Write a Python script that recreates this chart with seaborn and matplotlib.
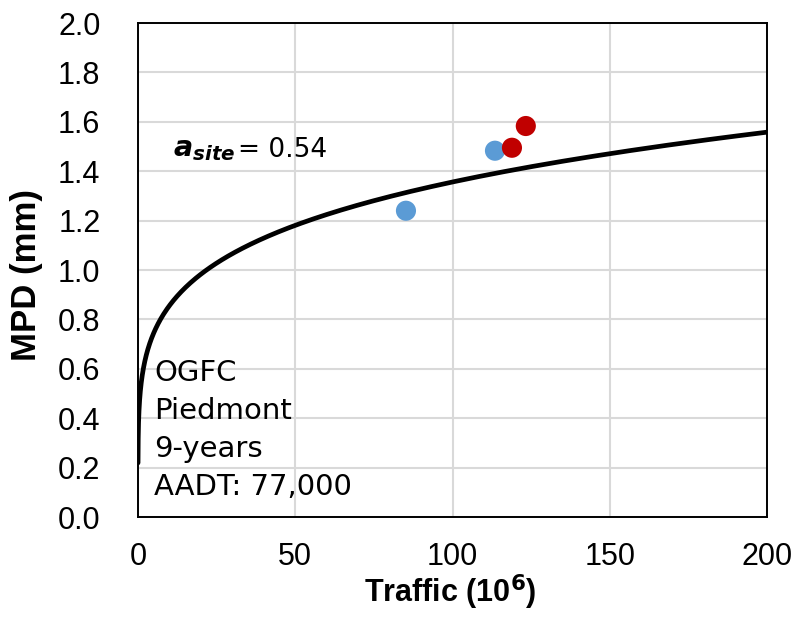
import numpy as np
import pandas as pd
import matplotlib
matplotlib.use("Agg")
import matplotlib.pyplot as plt
import seaborn as sns

# Measured MPD versus cumulative traffic
traffic_blue = [85.2, 113.5]
mpd_blue = [1.24, 1.483]
traffic_red = [118.9, 123.3]
mpd_red = [1.495, 1.583]

# Site model MPD = a_site * T^b
a_site = 0.54
b_exp = 0.2
t_start, t_end = 0.011, 200

x_ticks = [0, 50, 100, 150, 200]
y_ticks = [0.0, 0.2, 0.4, 0.6, 0.8, 1.0, 1.2, 1.4, 1.6, 1.8, 2.0]
info_lines = ["OGFC", "Piedmont", "9-years", "AADT: 77,000"]

sns.set_theme(style="white")
plt.rcParams["font.family"] = ["Liberation Sans", "DejaVu Sans"]
plt.rcParams["mathtext.fontset"] = "dejavusans"
plt.rcParams["text.color"] = "black"
plt.rcParams["axes.labelcolor"] = "black"

fig = plt.figure(figsize=(7.99, 6.27), dpi=100)
ax = fig.add_axes([0.1727, 0.1754, 0.7873, 0.7879])

t_model = np.geomspace(t_start, t_end, 400)
model = pd.DataFrame({"T": t_model, "MPD": a_site * t_model ** b_exp})
sns.lineplot(data=model, x="T", y="MPD", ax=ax, color="black", lw=3.4,
             zorder=3, sort=False)

blue = pd.DataFrame({"T": traffic_blue, "MPD": mpd_blue})
red = pd.DataFrame({"T": traffic_red, "MPD": mpd_red})
sns.scatterplot(data=blue, x="T", y="MPD", ax=ax, color="#5b9bd5", s=210,
                edgecolor="none", zorder=4)
sns.scatterplot(data=red, x="T", y="MPD", ax=ax, color="#c00000", s=210,
                edgecolor="none", zorder=4)

ax.set_xlim(0, 200)
ax.set_ylim(0, 2.0)
ax.set_xticks(x_ticks)
ax.set_yticks(y_ticks)
ax.set_xticklabels([str(v) for v in x_ticks])
ax.set_yticklabels([f"{v:.1f}" for v in y_ticks])
ax.tick_params(axis="both", labelsize=22, length=0, colors="black")
ax.tick_params(axis="y", pad=27)
ax.tick_params(axis="x", pad=18)
ax.grid(True, color="#d9d9d9", lw=1.5)
ax.set_axisbelow(True)
for sp in ax.spines.values():
    sp.set_visible(True)
    sp.set_color("black")
    sp.set_linewidth(1.4)

ax.set_xlabel("Traffic (10$^{\\mathbf{6}}$)", fontsize=22, fontweight="bold")
ax.set_ylabel("MPD (mm)", fontsize=25, fontweight="bold")
ax.xaxis.set_label_coords(0.496, -0.112)
ax.yaxis.set_label_coords(-0.151, 0.49)

ax.text(11.0, 1.486, r"$\mathbfit{a}_{\mathbfit{site}}$", fontsize=20.5,
        va="center", ha="left")
ax.text(31.8, 1.486, "= 0.54", fontsize=19, va="center", ha="left",
        family=["DejaVu Sans"])

for i, line in enumerate(info_lines):
    ax.text(5.2, 0.551 - i * 0.154, line, fontsize=21, va="baseline",
            ha="left", family=["DejaVu Sans"])

fig.savefig("out.png", dpi=100)
